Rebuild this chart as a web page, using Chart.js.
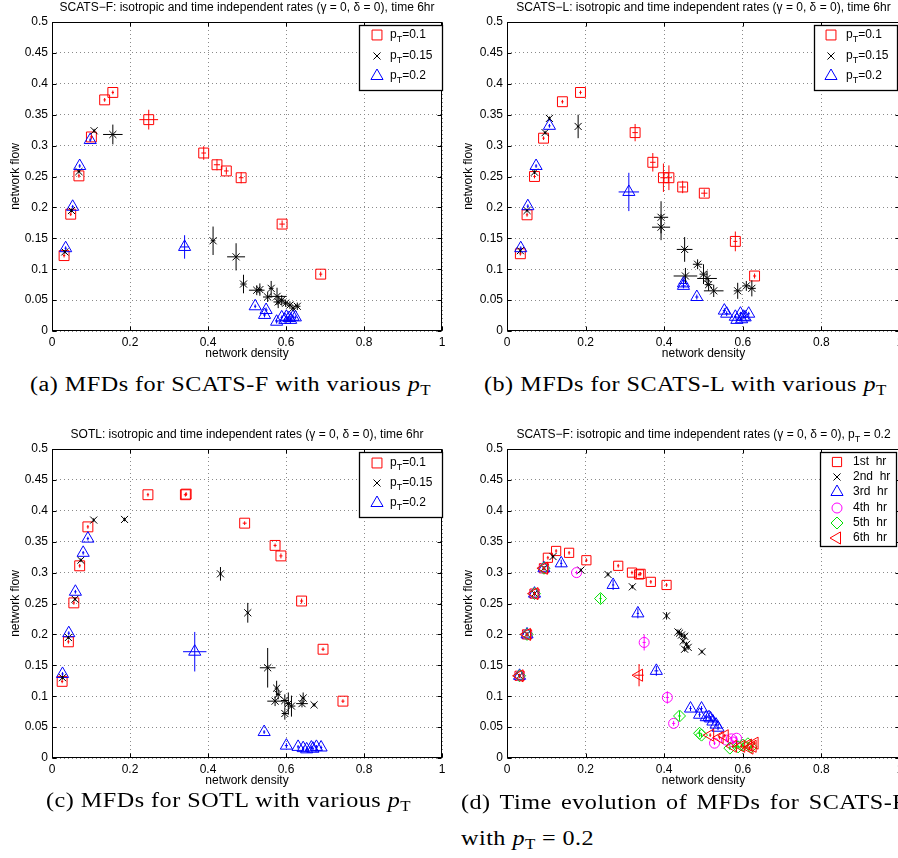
<!DOCTYPE html>
<html>
<head>
<meta charset="utf-8">
<script src="https://cdn.jsdelivr.net/npm/chart.js@4.4.0/dist/chart.umd.min.js"></script>
<style>
  body { margin: 0; width: 898px; height: 858px; overflow: hidden; background: #fff; position: relative; }
  canvas { position: absolute; }
  .cap { position: absolute; font-family: "Liberation Serif", "DejaVu Serif", serif; font-size: 20px; line-height: 22px; letter-spacing: 0.4px; white-space: nowrap; color: #000; transform-origin: 0 50%; }
  .cap sub { font-size: 14px; vertical-align: -4px; line-height: 0; letter-spacing: 0; }
</style>
</head>
<body>
<canvas id="ca" width="450" height="362" style="left:0;top:0"></canvas>
<canvas id="cb" width="460" height="362" style="left:450px;top:0"></canvas>
<canvas id="cc" width="450" height="372" style="left:0;top:420px"></canvas>
<canvas id="cd" width="460" height="372" style="left:450px;top:420px"></canvas>

<div class="cap" id="capA" style="left:30px;top:373px">(a) MFDs for SCATS-F with various <i>p</i><sub>T</sub></div>
<div class="cap" style="left:484px;top:373px">(b) MFDs for SCATS-L with various <i>p</i><sub>T</sub></div>
<div class="cap" style="left:46px;top:789px">(c) MFDs for SOTL with various <i>p</i><sub>T</sub></div>
<div class="cap" id="capD1" style="left:461px;top:791px">(d) Time evolution of MFDs for SCATS-F</div>
<div class="cap" style="left:461px;top:827px">with <i>p</i><sub>T</sub> = 0.2</div>

<script>
// tick labels
const xTickLabels = ['0', '0.2', '0.4', '0.6', '0.8', '1'];
const yTickLabels = ['0', '0.05', '0.1', '0.15', '0.2', '0.25', '0.3', '0.35', '0.4', '0.45', '0.5'];

// legend labels
const pValues = ['0.1', '0.15', '0.2'];
const hourLabels = ['1st  hr', '2nd  hr', '3rd  hr', '4th  hr', '5th  hr', '6th  hr'];

// points: [density, flow, density error, flow error]
// (a) SCATS-F
const scatsF_p010 = [
  [0.031, 0.122, 0.003, 0.003], [0.048, 0.189, 0.003, 0.003], [0.069, 0.251, 0.003, 0.003],
  [0.101, 0.314, 0.004, 0.004], [0.135, 0.374, 0.003, 0.003], [0.156, 0.386, 0.003, 0.003],
  [0.248, 0.342, 0.024, 0.016], [0.389, 0.288, 0.006, 0.011], [0.423, 0.269, 0.008, 0.009],
  [0.447, 0.259, 0.006, 0.006], [0.485, 0.248, 0.006, 0.009], [0.590, 0.173, 0.007, 0.006],
  [0.689, 0.092, 0.004, 0.004]
];
const scatsF_p015 = [
  [0.033, 0.128, 0.003, 0.003], [0.050, 0.195, 0.003, 0.003], [0.069, 0.258, 0.003, 0.003],
  [0.108, 0.324, 0.003, 0.003], [0.156, 0.318, 0.025, 0.016], [0.413, 0.146, 0.006, 0.023],
  [0.472, 0.120, 0.023, 0.022], [0.491, 0.076, 0.008, 0.015], [0.525, 0.066, 0.020, 0.008],
  [0.533, 0.067, 0.006, 0.010], [0.553, 0.055, 0.012, 0.008], [0.562, 0.069, 0.006, 0.012],
  [0.577, 0.056, 0.025, 0.014], [0.580, 0.047, 0.012, 0.010], [0.589, 0.050, 0.008, 0.008],
  [0.599, 0.045, 0.008, 0.006], [0.610, 0.042, 0.008, 0.006], [0.618, 0.037, 0.006, 0.005],
  [0.629, 0.040, 0.008, 0.006]
];
const scatsF_p020 = [
  [0.035, 0.134, 0.003, 0.003], [0.053, 0.201, 0.003, 0.003], [0.071, 0.267, 0.003, 0.003],
  [0.098, 0.309, 0.003, 0.003], [0.340, 0.136, 0.012, 0.019], [0.521, 0.040, 0.003, 0.003],
  [0.545, 0.026, 0.004, 0.004], [0.549, 0.034, 0.004, 0.004], [0.576, 0.015, 0.003, 0.003],
  [0.589, 0.022, 0.003, 0.003], [0.597, 0.018, 0.003, 0.003], [0.601, 0.023, 0.003, 0.003],
  [0.608, 0.021, 0.003, 0.003], [0.612, 0.018, 0.003, 0.003], [0.618, 0.023, 0.003, 0.003],
  [0.624, 0.022, 0.003, 0.003]
];

// (b) SCATS-L
const scatsL_p010 = [
  [0.034, 0.125, 0.003, 0.003], [0.051, 0.188, 0.003, 0.003], [0.070, 0.250, 0.003, 0.003],
  [0.093, 0.312, 0.003, 0.003], [0.141, 0.371, 0.003, 0.003], [0.187, 0.386, 0.003, 0.003],
  [0.326, 0.321, 0.007, 0.014], [0.371, 0.273, 0.007, 0.015], [0.398, 0.248, 0.008, 0.023],
  [0.412, 0.248, 0.008, 0.020], [0.447, 0.233, 0.008, 0.010], [0.502, 0.223, 0.008, 0.006],
  [0.581, 0.145, 0.005, 0.016], [0.630, 0.089, 0.004, 0.004]
];
const scatsL_p015 = [
  [0.034, 0.130, 0.003, 0.003], [0.051, 0.195, 0.003, 0.003], [0.070, 0.257, 0.003, 0.003],
  [0.097, 0.321, 0.003, 0.003], [0.108, 0.344, 0.003, 0.003], [0.181, 0.331, 0.003, 0.019],
  [0.392, 0.184, 0.018, 0.026], [0.392, 0.168, 0.023, 0.021], [0.452, 0.132, 0.020, 0.020],
  [0.454, 0.089, 0.030, 0.013], [0.485, 0.108, 0.012, 0.008], [0.500, 0.092, 0.010, 0.016],
  [0.509, 0.085, 0.025, 0.012], [0.513, 0.075, 0.010, 0.010], [0.526, 0.065, 0.025, 0.010],
  [0.587, 0.065, 0.010, 0.013], [0.609, 0.073, 0.010, 0.008], [0.623, 0.069, 0.010, 0.013]
];
const scatsL_p020 = [
  [0.035, 0.134, 0.003, 0.003], [0.053, 0.202, 0.003, 0.003], [0.074, 0.267, 0.003, 0.003],
  [0.108, 0.332, 0.003, 0.003], [0.310, 0.225, 0.026, 0.031], [0.449, 0.077, 0.012, 0.006],
  [0.449, 0.073, 0.006, 0.004], [0.483, 0.055, 0.004, 0.004], [0.553, 0.033, 0.004, 0.004],
  [0.559, 0.028, 0.004, 0.004], [0.581, 0.023, 0.003, 0.003], [0.585, 0.018, 0.003, 0.003],
  [0.594, 0.028, 0.003, 0.003], [0.597, 0.019, 0.003, 0.003], [0.602, 0.023, 0.003, 0.003],
  [0.606, 0.022, 0.003, 0.003], [0.615, 0.028, 0.003, 0.003]
];

// (c) SOTL
const sotl_p010 = [
  [0.026, 0.124, 0.003, 0.003], [0.042, 0.188, 0.003, 0.003], [0.056, 0.251, 0.003, 0.003],
  [0.071, 0.311, 0.003, 0.003], [0.092, 0.374, 0.003, 0.003], [0.246, 0.426, 0.003, 0.003],
  [0.342, 0.426, 0.004, 0.003], [0.344, 0.427, 0.003, 0.003], [0.494, 0.380, 0.005, 0.003],
  [0.572, 0.344, 0.004, 0.003], [0.587, 0.327, 0.004, 0.004], [0.640, 0.254, 0.004, 0.004],
  [0.695, 0.176, 0.004, 0.003], [0.746, 0.092, 0.004, 0.003]
];
const sotl_p015 = [
  [0.027, 0.130, 0.003, 0.003], [0.042, 0.195, 0.003, 0.003], [0.059, 0.257, 0.003, 0.003],
  [0.074, 0.320, 0.003, 0.003], [0.107, 0.385, 0.003, 0.003], [0.186, 0.386, 0.003, 0.003],
  [0.432, 0.298, 0.003, 0.011], [0.502, 0.235, 0.003, 0.016], [0.553, 0.146, 0.020, 0.032],
  [0.576, 0.113, 0.005, 0.012], [0.580, 0.103, 0.006, 0.008], [0.572, 0.092, 0.020, 0.008],
  [0.597, 0.093, 0.010, 0.010], [0.606, 0.088, 0.008, 0.018], [0.597, 0.072, 0.008, 0.010],
  [0.614, 0.084, 0.010, 0.017], [0.641, 0.088, 0.015, 0.006], [0.644, 0.097, 0.005, 0.009],
  [0.672, 0.086, 0.004, 0.003]
];
const sotl_p020 = [
  [0.027, 0.136, 0.003, 0.003], [0.043, 0.202, 0.003, 0.003], [0.060, 0.269, 0.003, 0.003],
  [0.080, 0.332, 0.003, 0.003], [0.092, 0.355, 0.003, 0.003], [0.366, 0.172, 0.030, 0.032],
  [0.544, 0.042, 0.003, 0.003], [0.601, 0.020, 0.004, 0.004], [0.631, 0.018, 0.003, 0.003],
  [0.644, 0.016, 0.003, 0.003], [0.653, 0.014, 0.003, 0.003], [0.665, 0.017, 0.003, 0.003],
  [0.669, 0.015, 0.003, 0.003], [0.678, 0.018, 0.003, 0.003], [0.690, 0.017, 0.003, 0.003]
];

// (d) SCATS-F, p_T = 0.2, hour by hour
const hour1 = [
  [0.032, 0.133, 0.003, 0.003], [0.051, 0.200, 0.003, 0.003], [0.070, 0.266, 0.003, 0.003],
  [0.094, 0.307, 0.003, 0.003], [0.104, 0.324, 0.003, 0.003], [0.125, 0.335, 0.003, 0.003],
  [0.158, 0.332, 0.003, 0.003], [0.202, 0.320, 0.003, 0.003], [0.283, 0.311, 0.003, 0.003],
  [0.318, 0.300, 0.003, 0.003], [0.336, 0.297, 0.003, 0.003], [0.340, 0.298, 0.003, 0.003],
  [0.366, 0.285, 0.003, 0.003], [0.406, 0.280, 0.003, 0.003]
];
const hour2 = [
  [0.032, 0.133, 0.003, 0.003], [0.051, 0.200, 0.003, 0.003], [0.070, 0.266, 0.003, 0.003],
  [0.094, 0.307, 0.003, 0.003], [0.117, 0.326, 0.003, 0.003], [0.188, 0.304, 0.003, 0.003],
  [0.257, 0.297, 0.003, 0.003], [0.319, 0.277, 0.003, 0.003], [0.406, 0.230, 0.003, 0.006],
  [0.435, 0.204, 0.003, 0.004], [0.439, 0.202, 0.003, 0.004], [0.444, 0.199, 0.003, 0.004],
  [0.452, 0.197, 0.003, 0.004], [0.448, 0.189, 0.003, 0.004], [0.457, 0.184, 0.003, 0.004],
  [0.461, 0.179, 0.003, 0.004], [0.452, 0.176, 0.003, 0.004], [0.496, 0.172, 0.003, 0.003]
];
const hour3 = [
  [0.032, 0.133, 0.003, 0.003], [0.051, 0.200, 0.003, 0.003], [0.070, 0.266, 0.003, 0.003],
  [0.094, 0.307, 0.003, 0.003], [0.138, 0.315, 0.003, 0.006], [0.270, 0.280, 0.003, 0.008],
  [0.333, 0.234, 0.003, 0.008], [0.380, 0.141, 0.005, 0.008], [0.467, 0.080, 0.003, 0.004],
  [0.490, 0.070, 0.003, 0.004], [0.495, 0.080, 0.003, 0.004], [0.507, 0.066, 0.003, 0.004],
  [0.514, 0.066, 0.003, 0.004], [0.518, 0.064, 0.003, 0.004], [0.524, 0.059, 0.003, 0.004],
  [0.532, 0.054, 0.003, 0.004], [0.537, 0.049, 0.003, 0.004]
];
const hour4 = [
  [0.032, 0.133, 0.003, 0.003], [0.051, 0.200, 0.003, 0.003], [0.070, 0.266, 0.003, 0.003],
  [0.094, 0.307, 0.003, 0.003], [0.177, 0.300, 0.003, 0.003], [0.349, 0.187, 0.004, 0.013],
  [0.408, 0.098, 0.004, 0.010], [0.424, 0.056, 0.004, 0.004], [0.528, 0.024, 0.003, 0.003],
  [0.558, 0.029, 0.003, 0.003], [0.571, 0.031, 0.003, 0.003], [0.575, 0.026, 0.003, 0.003],
  [0.584, 0.032, 0.003, 0.003]
];
const hour5 = [
  [0.032, 0.133, 0.003, 0.003], [0.051, 0.200, 0.003, 0.003], [0.070, 0.266, 0.003, 0.003],
  [0.094, 0.307, 0.003, 0.003], [0.238, 0.258, 0.003, 0.008], [0.439, 0.068, 0.004, 0.008],
  [0.490, 0.040, 0.004, 0.006], [0.495, 0.037, 0.003, 0.003], [0.567, 0.016, 0.003, 0.003],
  [0.588, 0.018, 0.012, 0.003], [0.600, 0.021, 0.003, 0.003], [0.613, 0.023, 0.003, 0.003],
  [0.621, 0.018, 0.003, 0.003]
];
const hour6 = [
  [0.032, 0.133, 0.003, 0.003], [0.051, 0.200, 0.003, 0.003], [0.070, 0.266, 0.003, 0.003],
  [0.094, 0.307, 0.003, 0.003], [0.336, 0.134, 0.012, 0.018], [0.517, 0.037, 0.003, 0.003],
  [0.541, 0.033, 0.003, 0.003], [0.554, 0.036, 0.003, 0.003], [0.575, 0.019, 0.003, 0.003],
  [0.596, 0.019, 0.003, 0.003], [0.613, 0.021, 0.003, 0.003], [0.617, 0.016, 0.003, 0.003],
  [0.625, 0.019, 0.003, 0.003], [0.630, 0.024, 0.003, 0.003]
];

const SANS = '"Liberation Sans", Arial, Helvetica, sans-serif';

const toPts = arr => arr.map(([x, y, ex, ey]) => ({ x, y, ex, ey }));

// captions: widen the serif text to the width of the latex captions
const capScale = 400 / document.getElementById('capA').offsetWidth;
document.querySelectorAll('.cap').forEach(c => { c.style.transform = 'scaleX(' + capScale + ')'; });
const capD1 = document.getElementById('capD1');
capD1.style.wordSpacing = ((445 / capScale - capD1.offsetWidth) / 6) + 'px';

// marker shapes for the legend, same geometry as Chart.js point styles
function drawMarker(ctx, style, x, y, r, rot) {
  ctx.beginPath();
  if (style === 'rect') {
    const s = r * Math.SQRT1_2;
    ctx.rect(x - s, y - s, 2 * s, 2 * s);
  } else if (style === 'crossRot') {
    const s = r * Math.SQRT1_2;
    ctx.moveTo(x - s, y - s); ctx.lineTo(x + s, y + s);
    ctx.moveTo(x - s, y + s); ctx.lineTo(x + s, y - s);
  } else if (style === 'triangle') {
    let a = (rot || 0) * Math.PI / 180;
    ctx.moveTo(x + Math.sin(a) * r, y - Math.cos(a) * r);
    a += 2 * Math.PI / 3;
    ctx.lineTo(x + Math.sin(a) * r, y - Math.cos(a) * r);
    a += 2 * Math.PI / 3;
    ctx.lineTo(x + Math.sin(a) * r, y - Math.cos(a) * r);
    ctx.closePath();
  } else if (style === 'circle') {
    ctx.arc(x, y, r, 0, Math.PI * 2);
  } else if (style === 'rectRot') {
    ctx.moveTo(x, y - r); ctx.lineTo(x + r, y); ctx.lineTo(x, y + r); ctx.lineTo(x - r, y);
    ctx.closePath();
  }
  ctx.stroke();
}

// text with subscripts: parts = [[text, isSub], ...]
function drawRich(ctx, parts, x, y, size, align) {
  const subSize = Math.round(size * 0.75);
  let w = 0;
  parts.forEach(([t, sub]) => {
    ctx.font = (sub ? subSize : size) + 'px ' + SANS;
    w += ctx.measureText(t).width;
  });
  let cx = align === 'center' ? x - w / 2 : x;
  ctx.textBaseline = 'middle';
  ctx.textAlign = 'left';
  parts.forEach(([t, sub]) => {
    ctx.font = (sub ? subSize : size) + 'px ' + SANS;
    ctx.fillText(t, cx, sub ? y + size * 0.35 : y);
    cx += ctx.measureText(t).width;
  });
}

// error bars, matlab style crosses in the marker colour
const errorBars = {
  id: 'errorBars',
  afterDatasetsDraw(chart) {
    const { ctx, scales: { x, y } } = chart;
    chart.data.datasets.forEach(ds => {
      ctx.save();
      ctx.strokeStyle = ds.borderColor;
      ctx.lineWidth = 1;
      ctx.beginPath();
      ds.data.forEach(p => {
        const px = x.getPixelForValue(p.x), py = y.getPixelForValue(p.y);
        const dx = x.getPixelForValue(p.x + p.ex) - px;
        const dy = py - y.getPixelForValue(p.y + p.ey);
        ctx.moveTo(px - dx, py); ctx.lineTo(px + dx, py);
        ctx.moveTo(px, py - dy); ctx.lineTo(px, py + dy);
      });
      ctx.stroke();
      ctx.restore();
    });
  }
};

// box, inward ticks, titles and legend
const decorations = {
  id: 'mlDeco',
  afterDraw(chart, args, opts) {
    const { ctx, chartArea: a, scales: { x, y } } = chart;
    ctx.save();
    ctx.strokeStyle = '#000';
    ctx.lineWidth = 1;
    const L = Math.round(a.left) + 0.5, R = Math.round(a.right) - 0.5;
    const T = Math.round(a.top) + 0.5, B = Math.round(a.bottom) - 0.5;
    ctx.strokeRect(L, T, R - L, B - T);
    ctx.beginPath();
    x.ticks.forEach(t => {
      const px = Math.round(x.getPixelForValue(t.value)) + 0.5;
      ctx.moveTo(px, B); ctx.lineTo(px, B - 4);
      ctx.moveTo(px, T); ctx.lineTo(px, T + 4);
    });
    y.ticks.forEach(t => {
      const py = Math.round(y.getPixelForValue(t.value)) + 0.5;
      ctx.moveTo(L, py); ctx.lineTo(L + 4, py);
      ctx.moveTo(R, py); ctx.lineTo(R - 4, py);
    });
    ctx.stroke();

    ctx.fillStyle = '#000';
    drawRich(ctx, opts.title, (a.left + a.right) / 2, opts.titleY, 12, 'center');
    drawRich(ctx, [['network density']], (a.left + a.right) / 2, a.bottom + 23, 12, 'center');
    ctx.save();
    ctx.translate(opts.ylabX, (a.top + a.bottom) / 2);
    ctx.rotate(-Math.PI / 2);
    drawRich(ctx, [['network flow']], 0, 0, 12, 'center');
    ctx.restore();

    const lg = opts.legend;
    ctx.fillStyle = '#fff';
    ctx.fillRect(lg.x, lg.y, lg.w, lg.h);
    ctx.lineWidth = 1.3;
    ctx.strokeRect(lg.x + 0.5, lg.y + 0.5, lg.w, lg.h);
    ctx.lineWidth = 1;
    chart.data.datasets.forEach((ds, i) => {
      const ry = lg.rows[i];
      ctx.strokeStyle = ds.borderColor;
      drawMarker(ctx, ds.pointStyle, lg.mx, ry, ds.pointRadius, ds.pointRotation);
      ctx.fillStyle = '#000';
      drawRich(ctx, lg.labels[i], lg.tx, ry, 12, 'left');
    });
    ctx.restore();
  }
};

function series(data, style, color, r, order, rot) {
  return {
    data: toPts(data), pointStyle: style, pointRotation: rot || 0, pointRadius: r,
    pointHoverRadius: r, borderColor: color, backgroundColor: 'rgba(0,0,0,0)',
    borderWidth: 1, showLine: false, order: order
  };
}

function makePanel(id, datasets, cfg) {
  new Chart(document.getElementById(id), {
    type: 'scatter',
    data: { datasets },
    plugins: [errorBars, decorations],
    options: {
      responsive: false,
      animation: false,
      events: [],
      layout: { padding: { top: cfg.top, right: cfg.right, left: 0, bottom: 0 } },
      plugins: {
        legend: { display: false },
        tooltip: { enabled: false },
        mlDeco: cfg.deco
      },
      scales: {
        x: {
          type: 'linear', min: 0, max: 1,
          afterFit: s => { s.height = cfg.xh; },
          grid: { color: '#8a8a8a', lineWidth: 1, drawTicks: false },
          border: { display: false, dash: [1, 3] },
          ticks: {
            stepSize: 0.2, padding: 4, autoSkip: false, maxRotation: 0, color: '#000',
            font: { family: SANS, size: 12 },
            callback: (v, i) => xTickLabels[i]
          }
        },
        y: {
          type: 'linear', min: 0, max: 0.5,
          afterFit: s => { s.width = cfg.yw; },
          grid: { color: '#8a8a8a', lineWidth: 1, drawTicks: false },
          border: { display: false, dash: [1, 3] },
          ticks: {
            stepSize: 0.05, padding: 4, autoSkip: false, color: '#000',
            font: { family: SANS, size: 12 },
            callback: (v, i) => yTickLabels[i]
          }
        }
      }
    }
  });
}

const pLabels = pValues.map(v => [['p'], ['T', true], ['=' + v]]);
const hLabels = hourLabels.map(h => [[h]]);
const rateText = ': isotropic and time independent rates (\u03B3 = 0, \u03B4 = 0), ';

makePanel('ca', [
  series(scatsF_p010, 'rect', '#ff0000', 7, 3),
  series(scatsF_p015, 'crossRot', '#000000', 5, 2),
  series(scatsF_p020, 'triangle', '#0000ff', 7, 1)
], {
  top: 22, right: 5, xh: 31, yw: 52,
  deco: {
    title: [['SCATS\u2212F' + rateText + 'time 6hr']], titleY: 8, ylabX: 16,
    legend: { x: 359, y: 25, w: 83, h: 65, mx: 377, tx: 390, rows: [35, 56, 76], labels: pLabels }
  }
});

makePanel('cb', [
  series(scatsL_p010, 'rect', '#ff0000', 7, 3),
  series(scatsL_p015, 'crossRot', '#000000', 5, 2),
  series(scatsL_p020, 'triangle', '#0000ff', 7, 1)
], {
  top: 22, right: 10, xh: 31, yw: 57,
  deco: {
    title: [['SCATS\u2212L' + rateText + 'time 6hr']], titleY: 8, ylabX: 19,
    legend: { x: 364, y: 25, w: 83, h: 65, mx: 381, tx: 396, rows: [35, 56, 76], labels: pLabels }
  }
});

makePanel('cc', [
  series(sotl_p010, 'rect', '#ff0000', 7, 3),
  series(sotl_p015, 'crossRot', '#000000', 5, 2),
  series(sotl_p020, 'triangle', '#0000ff', 7, 1)
], {
  top: 29, right: 5, xh: 34, yw: 52,
  deco: {
    title: [['SOTL' + rateText + 'time 6hr']], titleY: 15, ylabX: 16,
    legend: { x: 359, y: 32, w: 83, h: 65, mx: 377, tx: 390, rows: [43, 63, 83], labels: pLabels }
  }
});

makePanel('cd', [
  series(hour1, 'rect', '#ff0000', 6.5, 6),
  series(hour2, 'crossRot', '#000000', 5, 5),
  series(hour3, 'triangle', '#0000ff', 7, 4),
  series(hour4, 'circle', '#ff00ff', 5, 3),
  series(hour5, 'rectRot', '#00e000', 6, 2),
  series(hour6, 'triangle', '#ff0000', 7, 1, 270)
], {
  top: 29, right: 10, xh: 34, yw: 57,
  deco: {
    title: [['SCATS\u2212F' + rateText + 'p'], ['T', true], [' = 0.2']], titleY: 15, ylabX: 19,
    legend: { x: 370, y: 32, w: 76, h: 94, mx: 387, tx: 403, rows: [42, 57, 72, 88, 103, 118], labels: hLabels }
  }
});
</script>
</body>
</html>
